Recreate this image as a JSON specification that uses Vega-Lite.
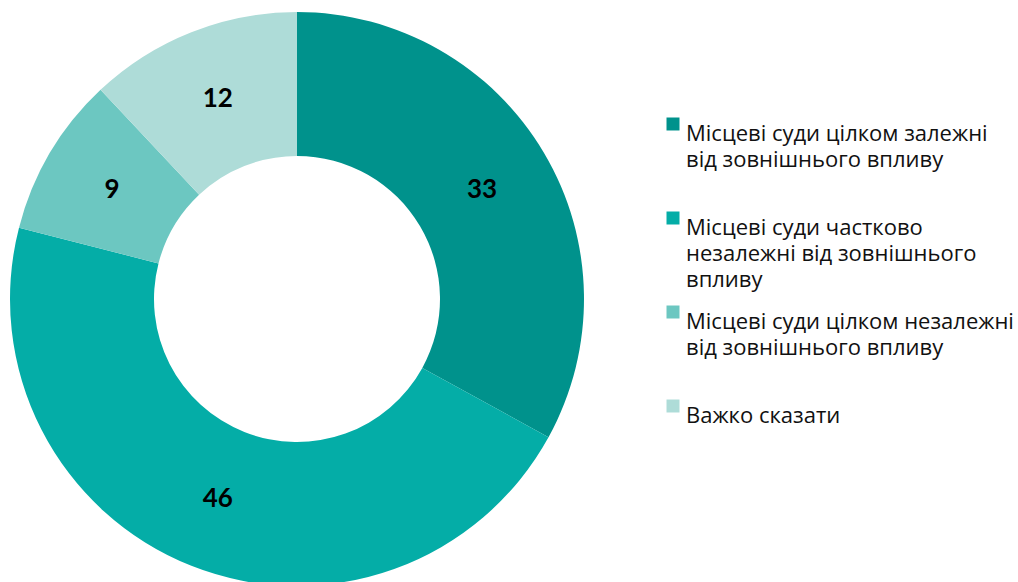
{
  "$schema": "https://vega.github.io/schema/vega-lite/v6.json",
  "width": 594,
  "height": 598,
  "padding": 0,
  "autosize": {"type": "pad"},
  "background": "white",
  "config": {"view": {"stroke": null}, "style": {"guide-label": {"lineHeight": 26}}},
  "data": {
    "values": [
      {"category": "Місцеві суди цілком залежні від зовнішнього впливу", "value": 33, "order": 1},
      {"category": "Місцеві суди частково незалежні від зовнішнього впливу", "value": 46, "order": 2},
      {"category": "Місцеві суди цілком незалежні від зовнішнього впливу", "value": 9, "order": 3},
      {"category": "Важко сказати", "value": 12, "order": 4}
    ]
  },
  "encoding": {
    "theta": {"field": "value", "type": "quantitative", "stack": true},
    "order": {"field": "order", "type": "quantitative"}
  },
  "layer": [
    {
      "mark": {"type": "arc", "innerRadius": 143, "outerRadius": 287},
      "encoding": {
        "color": {
          "field": "category",
          "type": "nominal",
          "sort": ["Місцеві суди цілком залежні від зовнішнього впливу", "Місцеві суди частково незалежні від зовнішнього впливу", "Місцеві суди цілком незалежні від зовнішнього впливу", "Важко сказати"],
          "scale": {
            "domain": ["Місцеві суди цілком залежні від зовнішнього впливу", "Місцеві суди частково незалежні від зовнішнього впливу", "Місцеві суди цілком незалежні від зовнішнього впливу", "Важко сказати"],
            "range": ["#00928C", "#04ADA7", "#6CC7C1", "#AEDCD8"]
          },
          "legend": {
            "title": null,
            "orient": "none",
            "legendX": 662,
            "legendY": 113,
            "symbolType": "square",
            "symbolSize": 169,
            "symbolStrokeWidth": 0,
            "labelFont": "Open Sans",
            "labelFontSize": 22,
            "labelColor": "#111111",
            "labelLimit": 400,
            "labelOffset": 2,
            "labelBaseline": "top",
            "gridAlign": "all",
            "rowPadding": 10,
            "labelExpr": "datum.label == 'Важко сказати' ? 'Важко сказати' : datum.label == 'Місцеві суди цілком залежні від зовнішнього впливу' ? ['Місцеві суди цілком залежні', 'від зовнішнього впливу'] : datum.label == 'Місцеві суди частково незалежні від зовнішнього впливу' ? ['Місцеві суди частково', 'незалежні від зовнішнього', 'впливу'] : ['Місцеві суди цілком незалежні', 'від зовнішнього впливу']"
          }
        }
      }
    },
    {
      "mark": {"type": "text", "radius": 215, "font": "Lato", "fontWeight": "bold", "fontSize": 26, "color": "#000000"},
      "encoding": {"text": {"field": "value", "type": "quantitative"}}
    }
  ]
}
